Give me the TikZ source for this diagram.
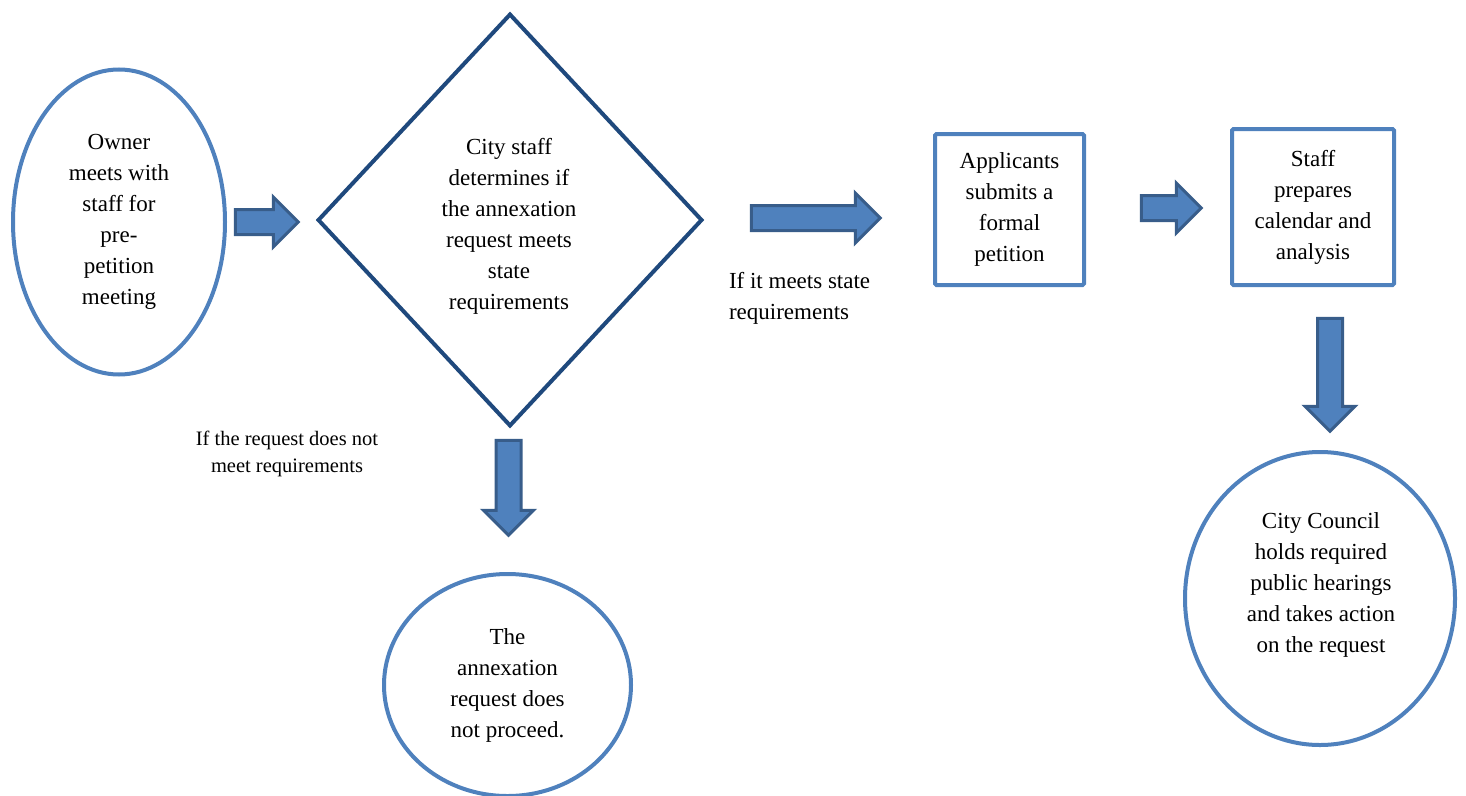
\documentclass[tikz,border=0pt]{standalone}
\usepackage{fontspec}
\setmainfont{Liberation Serif}
\usetikzlibrary{shapes.geometric,shapes.arrows}
\definecolor{lblue}{HTML}{4F81BD}
\definecolor{dblue}{HTML}{1F497D}
\definecolor{astroke}{HTML}{385D8A}
\begin{document}
\begin{tikzpicture}[x=1pt,y=-1pt,
  every node/.style={inner sep=0pt,outer sep=0pt},
  txt/.style={align=center,font=\fontsize{23}{31}\selectfont},
  small/.style={align=center,font=\fontsize{20.5}{27}\selectfont},
  oval/.style={ellipse,draw=lblue,line width=4pt,txt},
  boxed/.style={rectangle,draw=lblue,line width=4pt,rounded corners=1.5pt,txt},
  dia/.style={diamond,draw=dblue,line width=4pt,txt},
  barrow/.style={single arrow,draw=astroke,fill=lblue,line width=3pt,
    inner xsep=0pt,inner ysep=11pt,
    minimum width=47pt,single arrow head extend=12.5pt,single arrow head indent=0pt}
]
\useasboundingbox (0,0) rectangle (1466,795);
% shapes
\node[oval,minimum width=212pt,minimum height=305pt] (own) at (119,222)
  {Owner\\meets with\\staff for\\pre-\\petition\\meeting};
\node[dia,minimum width=383pt,minimum height=411pt] (det) at (510,220) {};
\node[txt] (dettext) at (509,226)
  {City staff\\determines if\\the annexation\\request meets\\state\\requirements};
\node[boxed,minimum width=149pt,minimum height=151pt] (app) at (1009.5,209.5)
  {Applicants\\submits a\\formal\\petition};
\node[boxed,minimum width=162pt,minimum height=156pt] (prep) at (1313,207)
  {Staff\\prepares\\calendar and\\analysis};
\node[oval,minimum width=270pt,minimum height=293pt] (council) at (1320,598.5) {};
\node[txt] (counciltext) at (1321,585)
  {City Council\\holds required\\public hearings\\and takes action\\on the request};
\node[oval,minimum width=247pt,minimum height=222pt] (stop) at (507.5,685)
  {The\\annexation\\request does\\not proceed.};
% block arrows
\node[barrow,minimum height=63pt] (a1) at (260.5,222) {};
\node[barrow,minimum height=129pt] (a2) at (809.5,218) {};
\node[barrow,minimum height=60pt] (a3) at (1165,208) {};
\node[barrow,minimum height=113pt,rotate=-90] (a4) at (1330,368.5) {};
\node[barrow,minimum height=95pt,rotate=-90] (a5) at (508.5,481.5) {};
% labels
\node[txt,align=left,anchor=north west] (yes) at (729,272) {If it meets state\\requirements};
\node[small] (no) at (287,454) {If the request does not\\meet requirements};
\end{tikzpicture}
\end{document}
